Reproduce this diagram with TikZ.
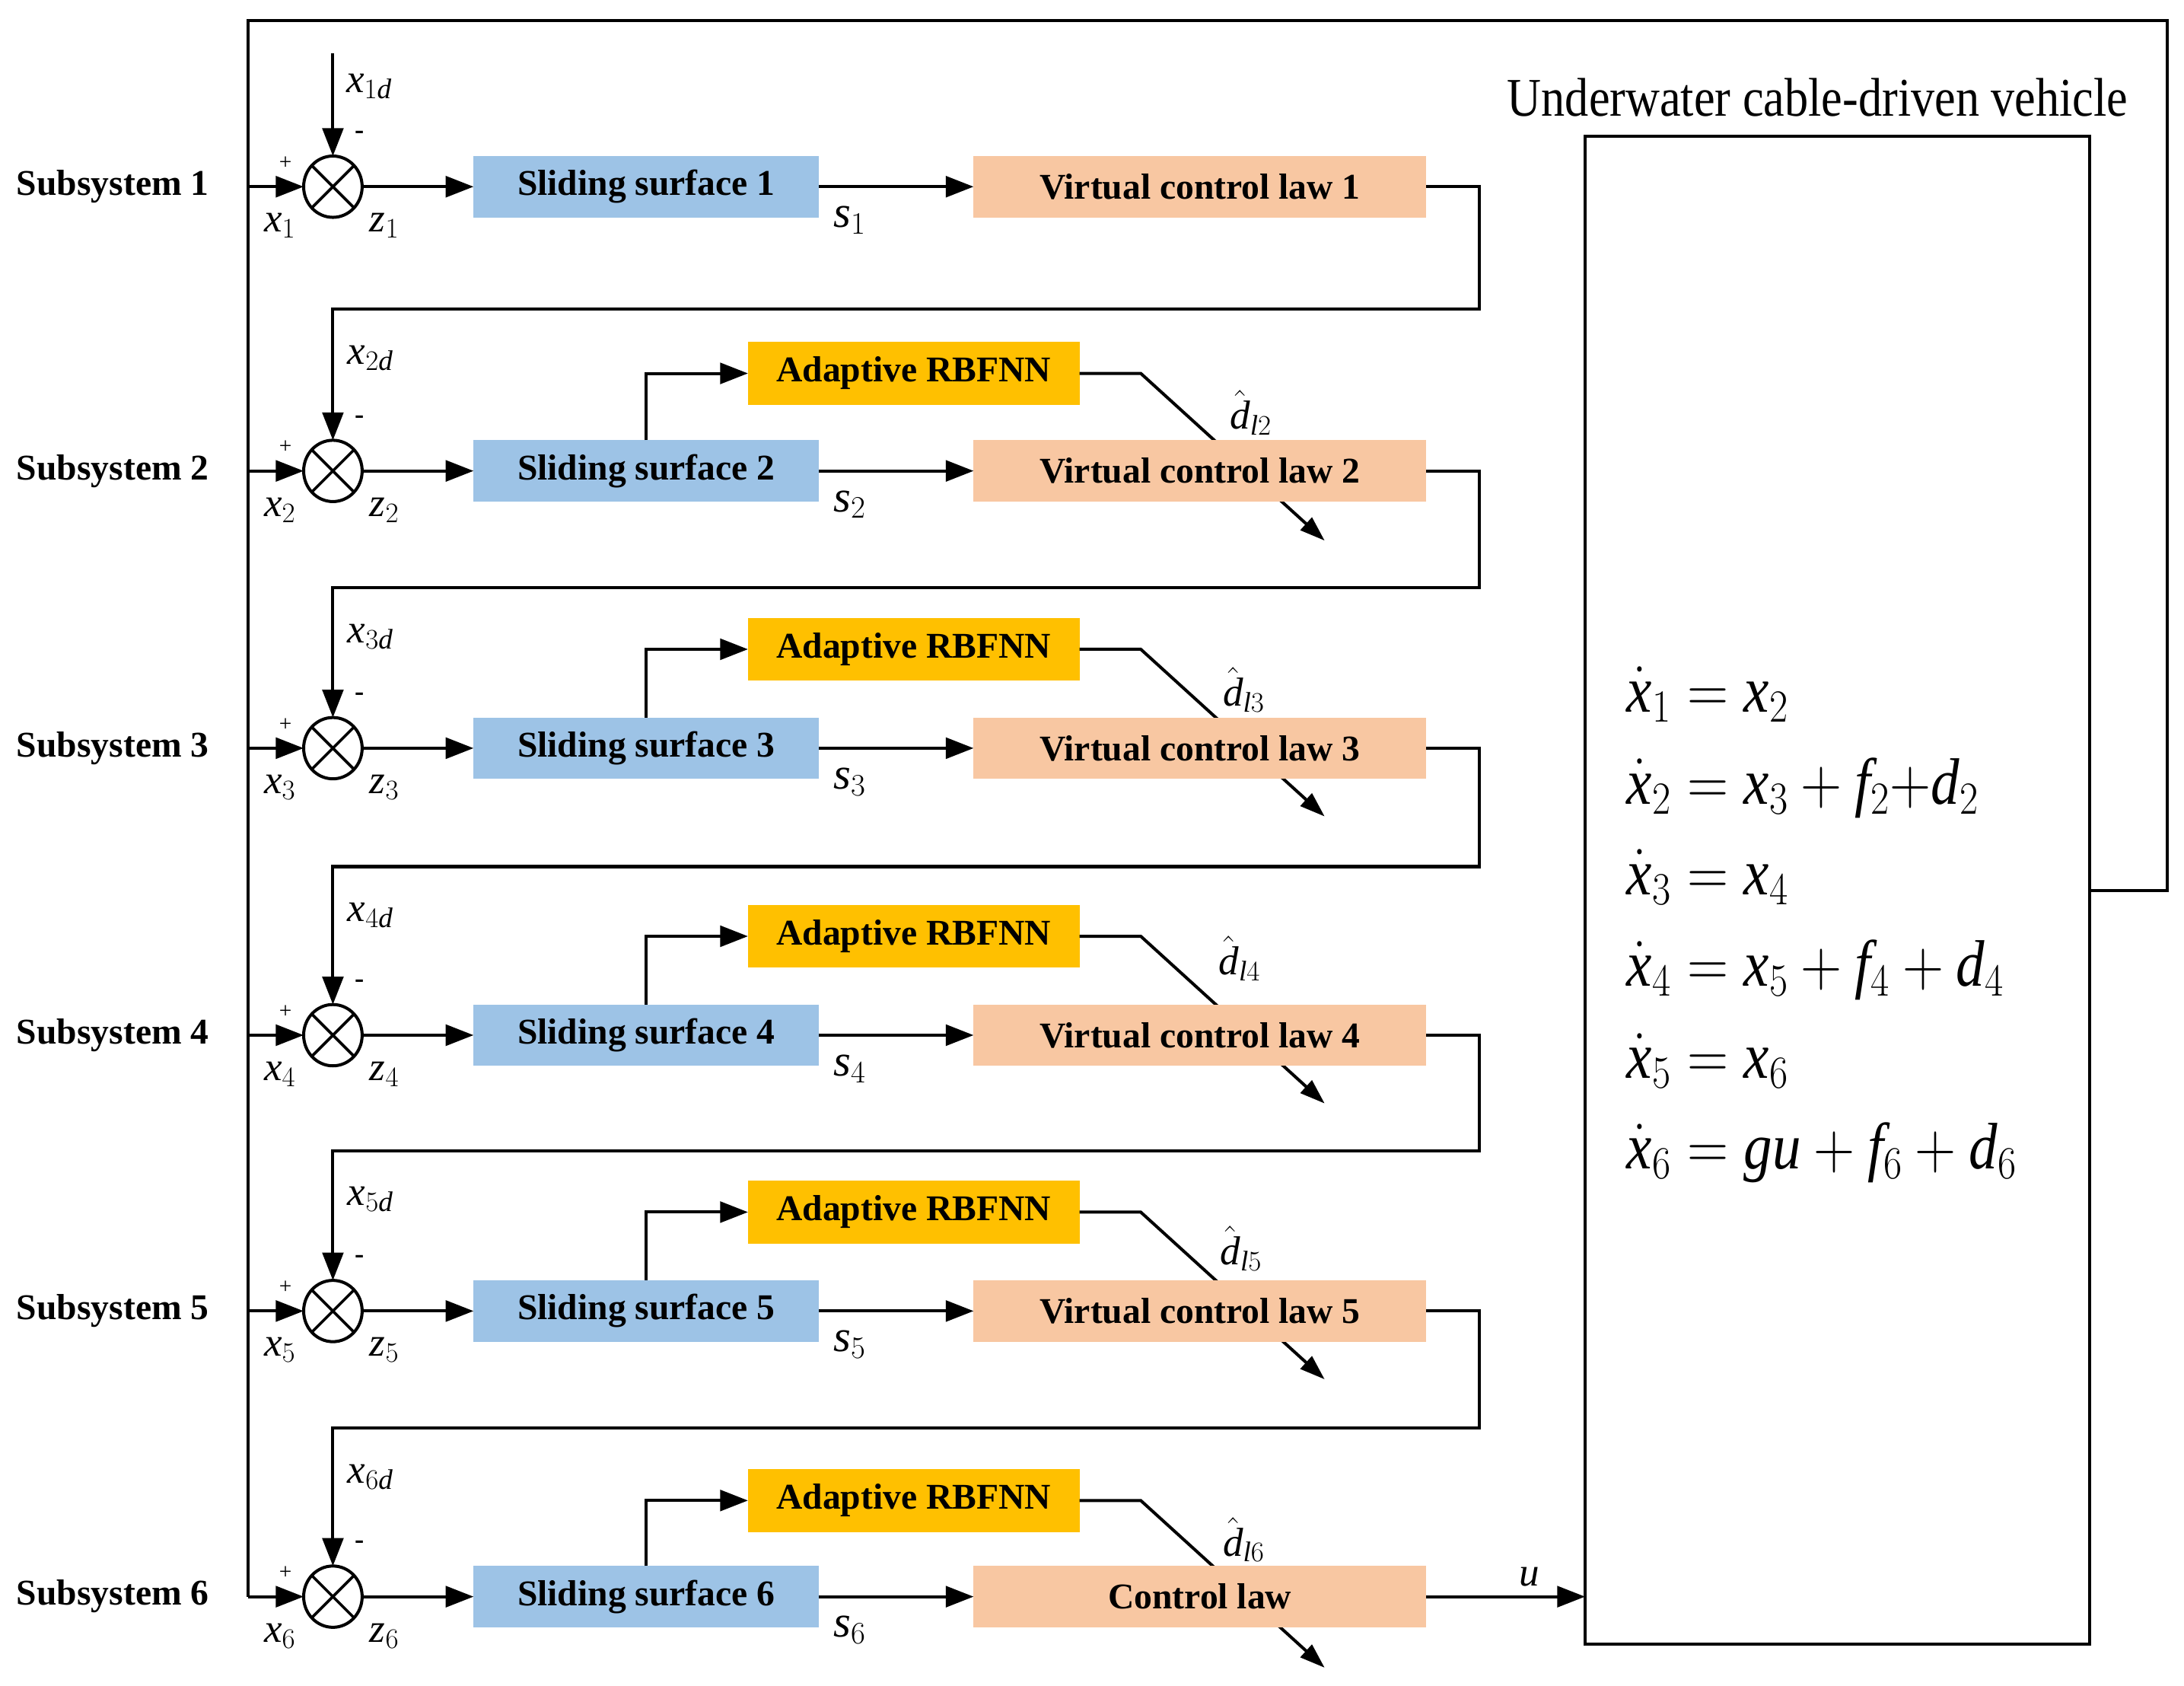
\documentclass[tikz,border=0pt]{standalone}
\usepackage{fix-cm}
\usepackage{fontspec}
\setmainfont{Liberation Serif}
\usetikzlibrary{arrows.meta,shapes.geometric}
\definecolor{sblue}{HTML}{9DC3E6}
\definecolor{ryel}{HTML}{FFC000}
\definecolor{cpeach}{HTML}{F8C7A2}
\newcommand{\mv}[1]{\mathit{#1}}
\newcommand{\tall}[1]{\scalebox{1}[1.15]{#1}}
\tikzset{
  every node/.style={inner sep=0pt,outer sep=0pt},
  wire/.style={line width=2.2pt},
  arr/.style={line width=2.2pt,-{Triangle[length=20pt,width=15pt]}},
  darr/.style={line width=2.2pt,-{Triangle[length=18pt,width=12pt]}},
  blk/.style={minimum height=44pt,font=\fontsize{26}{30}\selectfont\bfseries},
  ssbox/.style={blk,fill=sblue,minimum width=248pt},
  vcbox/.style={blk,fill=cpeach,minimum width=325pt},
  adbox/.style={blk,fill=ryel,minimum width=238pt,minimum height=45pt},
  sumj/.style={ellipse,draw,line width=2.2pt,minimum width=42pt,minimum height=44pt},
  lbl/.style={font=\fontsize{29}{33}\selectfont},
  slbl/.style={font=\fontsize{32}{36}\selectfont},
  sublbl/.style={font=\fontsize{26}{30}\selectfont\bfseries,anchor=west},
  sgn/.style={font=\fontsize{16}{18}\selectfont},
  msgn/.style={font=\fontsize{20}{22}\selectfont\bfseries},
  eqn/.style={font=\fontsize{41}{46}\selectfont,anchor=base west},
}
\begin{document}
\begin{tikzpicture}[x=1pt,y=-1pt]
\useasboundingbox (0,0) rectangle (1568,1210);
% plant
\node[draw,line width=2.2pt,minimum width=362pt,minimum height=1082pt] (plant) at (1319,639) {};
\node[font=\fontsize{34}{40}\selectfont] (title) at (1305,70) {\tall{Underwater cable-driven vehicle}};
\node[eqn] (e1) at (1168,511) {\tall{$\dot{\mv{x}}_1=\mv{x}_2$}};
\node[eqn] (e2) at (1168,577) {\tall{$\dot{\mv{x}}_2=\mv{x}_3+\mv{f}_2{+}\mv{d}_2$}};
\node[eqn] (e3) at (1168,642) {\tall{$\dot{\mv{x}}_3=\mv{x}_4$}};
\node[eqn] (e4) at (1168,708) {\tall{$\dot{\mv{x}}_4=\mv{x}_5+\mv{f}_4+\mv{d}_4$}};
\node[eqn] (e5) at (1168,774) {\tall{$\dot{\mv{x}}_5=\mv{x}_6$}};
\node[eqn] (e6) at (1168,839) {\tall{$\dot{\mv{x}}_6=\mv{gu}+\mv{f}_6+\mv{d}_6$}};

% rows
\foreach \i/\y in {1/134,2/338,3/537,4/743,5/941,6/1146}{
  \node[sublbl] (lab\i) at (12,\y) {Subsystem \i};
  \node[sumj] (c\i) at (239,\y) {};
  \draw[line width=2pt] (c\i.45)--(c\i.225) (c\i.135)--(c\i.315);
  \node[ssbox] (s\i) at (464,\y) {Sliding surface \i};
  \draw[arr] (c\i.east) -- (s\i.west);
  \node[lbl] (xl\i) at (201,\y+28) {$\mv{x}_{\i}$};
  \node[lbl] (zl\i) at (276,\y+28) {$\mv{z}_{\i}$};
  \node[slbl] (sl\i) at (610,\y+24) {$\mv{s}_{\i}$};
  \node[sgn] (pl\i) at (205,\y-17) {+};
  \node[msgn] (mi\i) at (258,\y-37) {-};
}

% adaptive RBFNN and their outputs
\foreach \i/\ya/\hx/\hy in {2/268/898/296,3/466/893/495,4/672/890/688,5/870/891/896,6/1077/893/1105}{
  \node[adbox] (a\i) at (656,\ya) {Adaptive RBFNN};
  \draw[arr] (s\i.north) |- (a\i.west);
  \coordinate (dk\i) at (819,\ya);
  \coordinate (de\i) at (951,\ya+120);
  \draw[darr] (a\i.east) -- (dk\i) -- (de\i);
  \node[lbl] (dh\i) at (\hx,\hy) {$\hat{\mv{d}}_{\mv{l}\i}$};
}

% control laws
\foreach \i/\y in {1/134,2/338,3/537,4/743,5/941}{
  \node[vcbox] (v\i) at (861.5,\y) {Virtual control law \i};
  \draw[arr] (s\i.east) -- (v\i.west);
}
\node[vcbox] (v6) at (861.5,1146) {Control law};
\draw[arr] (s6.east) -- (v6.west);

% return connectors
\foreach \i/\j/\cy in {1/2/222,2/3/422,3/4/622,4/5/826,5/6/1025}{
  \coordinate (rt\i) at (1062,\cy);
  \coordinate (lt\i) at (239,\cy);
  \draw[arr] (v\i.east) -| (rt\i) -- (lt\i) -- (c\j.north);
  \node[lbl] (xd\j) at (266,\cy+35) {$\mv{x}_{\j\mv{d}}$};
}
\coordinate (x1top) at (239,38);
\draw[arr] (x1top) -- (c1.north);
\node[lbl] (xd1) at (265,62) {$\mv{x}_{1\mv{d}}$};

% outer feedback loop
\coordinate (oR) at (1556,15);
\coordinate (oL) at (178,15);
\coordinate (oB) at (178,1146);
\draw[wire] (plant.east) -| (oR) -- (oL) -- (oB);
\draw[arr] (oB) -- (c6.west);
\foreach \i/\y in {1/134,2/338,3/537,4/743,5/941}{
  \coordinate (br\i) at (178,\y);
  \draw[arr] (br\i) -- (c\i.west);
}
% control output
\draw[arr] (v6.east) -- (plant.west |- v6.east);
\node[lbl] (ul) at (1098,1132) {$\mv{u}$};
\end{tikzpicture}
\end{document}
